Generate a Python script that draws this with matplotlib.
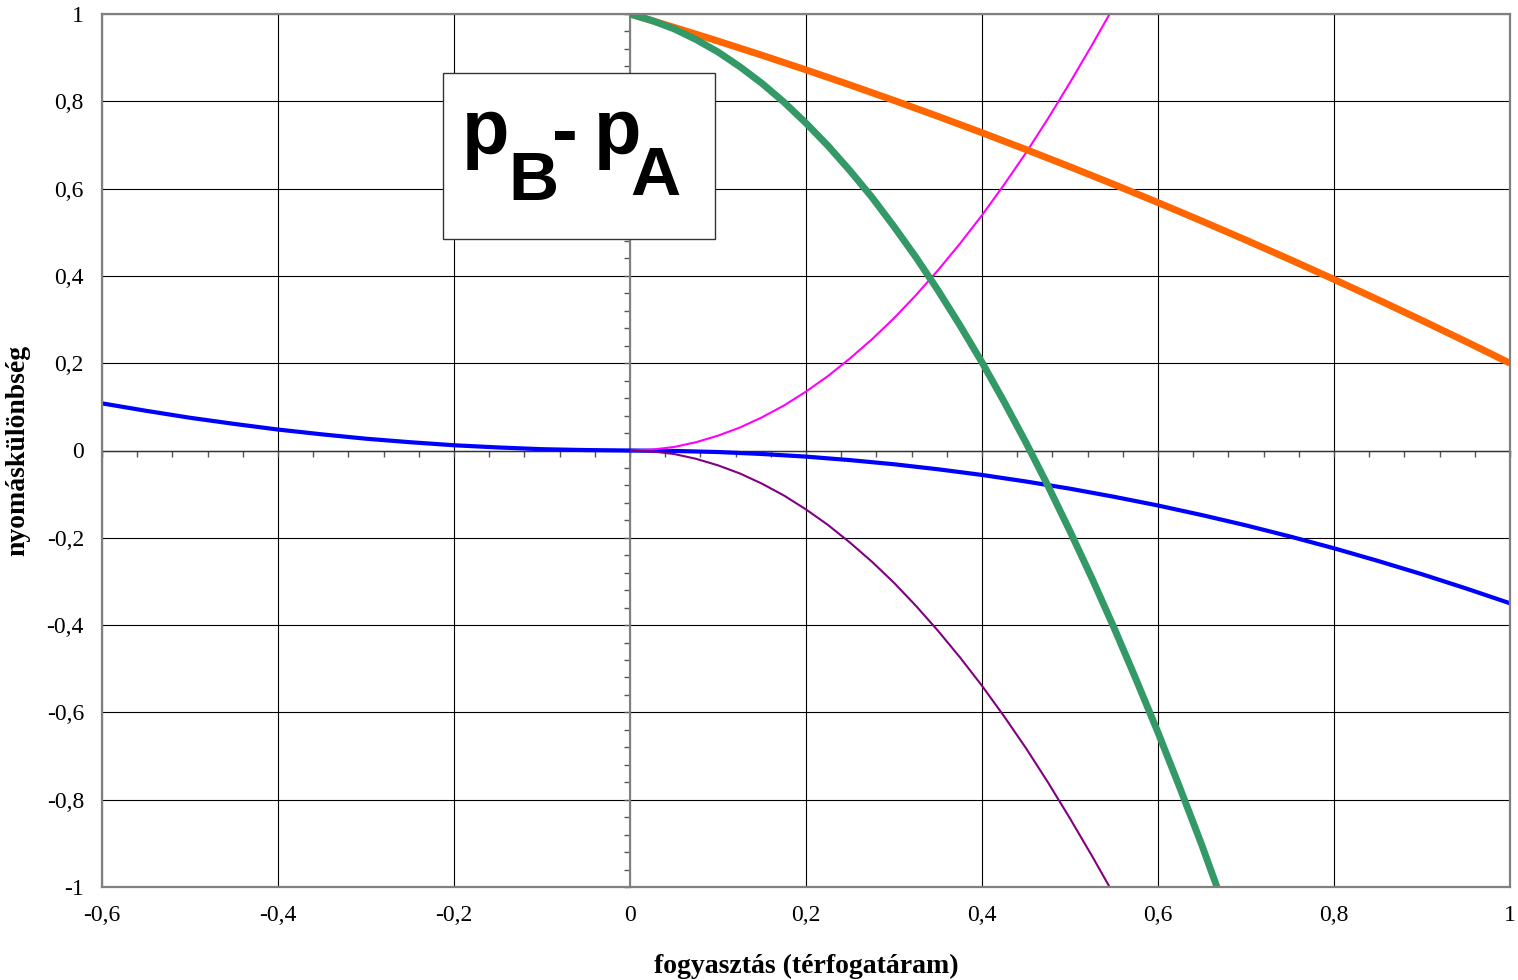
import numpy as np
import matplotlib
matplotlib.use('Agg')
import matplotlib.pyplot as plt
from matplotlib.patches import Rectangle

# görbék (leolvasott értékek)
x_orange = [0.0, 0.05, 0.1, 0.15, 0.2, 0.25, 0.3, 0.35, 0.4, 0.45, 0.5,
            0.55, 0.6, 0.65, 0.7, 0.75, 0.8, 0.85, 0.9, 0.95, 1.0]
y_orange = [1.0, 0.9695, 0.938, 0.9055, 0.872, 0.8375, 0.802, 0.7655, 0.728, 0.6895, 0.65,
            0.6095, 0.568, 0.5255, 0.482, 0.4375, 0.392, 0.3455, 0.298, 0.2495, 0.2]

x_green = [0.0, 0.025, 0.05, 0.075, 0.1, 0.125, 0.15, 0.175, 0.2, 0.225, 0.25, 0.275,
           0.3, 0.325, 0.35, 0.375, 0.4, 0.425, 0.45, 0.475, 0.5, 0.525, 0.55, 0.575,
           0.6, 0.625, 0.65, 0.667]
y_green = [1.0, 0.985, 0.966, 0.9415, 0.913, 0.879, 0.841, 0.798, 0.75, 0.698, 0.641, 0.58,
           0.513, 0.4425, 0.367, 0.2865, 0.202, 0.112, 0.018, -0.081, -0.185, -0.293, -0.406,
           -0.524, -0.646, -0.7735, -0.905, -1.0]

x_mag = [0.0, 0.025, 0.05, 0.075, 0.1, 0.125, 0.15, 0.175, 0.2, 0.225, 0.25, 0.275,
         0.3, 0.325, 0.35, 0.375, 0.4, 0.425, 0.45, 0.475, 0.5, 0.525, 0.545]
y_mag = [0.0, 0.0021, 0.008, 0.019, 0.034, 0.0527, 0.076, 0.1032, 0.135, 0.1706, 0.211, 0.2549,
         0.303, 0.356, 0.413, 0.474, 0.539, 0.6087, 0.682, 0.7604, 0.843, 0.9288, 1.0]

x_purple = [0.0, 0.025, 0.05, 0.075, 0.1, 0.125, 0.15, 0.175, 0.2, 0.225, 0.25, 0.275,
            0.3, 0.325, 0.35, 0.375, 0.4, 0.425, 0.45, 0.475, 0.5, 0.525, 0.545]
y_purple = [0.0, -0.0021, -0.008, -0.019, -0.034, -0.0527, -0.076, -0.1032, -0.135, -0.1706,
            -0.211, -0.2549, -0.303, -0.356, -0.413, -0.474, -0.539, -0.6087, -0.682, -0.7604,
            -0.843, -0.9288, -1.0]

x_blue = [-0.6, -0.55, -0.5, -0.45, -0.4, -0.35, -0.3, -0.25, -0.2, -0.15, -0.1, -0.05, 0.0,
          0.05, 0.1, 0.15, 0.2, 0.25, 0.3, 0.35, 0.4, 0.45, 0.5, 0.55, 0.6, 0.65, 0.7, 0.75,
          0.8, 0.85, 0.9, 0.95, 1.0]
y_blue = [0.108, 0.091, 0.075, 0.061, 0.048, 0.037, 0.027, 0.019, 0.012, 0.007, 0.003, 0.001, 0.0,
          -0.001, -0.0035, -0.008, -0.014, -0.022, -0.0315, -0.043, -0.056, -0.071, -0.0875,
          -0.106, -0.126, -0.148, -0.1715, -0.197, -0.224, -0.253, -0.2835, -0.316, -0.35]

xticks = [-0.6, -0.4, -0.2, 0, 0.2, 0.4, 0.6, 0.8, 1]
xticklabels = ['-0,6', '-0,4', '-0,2', '0', '0,2', '0,4', '0,6', '0,8', '1']
yticks = [-1, -0.8, -0.6, -0.4, -0.2, 0, 0.2, 0.4, 0.6, 0.8, 1]
yticklabels = ['-1', '-0,8', '-0,6', '-0,4', '-0,2', '0', '0,2', '0,4', '0,6', '0,8', '1']

serif = 'Liberation Serif'

fig = plt.figure(figsize=(15.18, 9.8), dpi=100)
pos = [102 / 1518, 1 - 887 / 980, 1408 / 1518, 873 / 980]

# alsó tengely: rács + nulla-tengelyek kis jelekkel
ax2 = fig.add_axes(pos, zorder=0)
ax2.set_xlim(-0.6, 1)
ax2.set_ylim(-1, 1)
ax2.set_xticks(xticks)
ax2.set_yticks(yticks)
ax2.set_xticks(np.arange(-0.6, 1.001, 0.04), minor=True)
ax2.set_yticks(np.arange(-1, 1.001, 0.04), minor=True)
ax2.grid(True, which='major', color='black', linewidth=0.8)
ax2.spines['left'].set_position(('data', 0))
ax2.spines['bottom'].set_position(('data', 0))
ax2.spines['top'].set_visible(False)
ax2.spines['right'].set_visible(False)
ax2.spines['left'].set_color('#808080')
ax2.spines['left'].set_linewidth(1.5)
ax2.spines['bottom'].set_color('#333333')
ax2.spines['bottom'].set_linewidth(1.0)
ax2.tick_params(which='both', labelleft=False, labelbottom=False, direction='out',
                length=4, width=1, color='#555555')

# felső tengely: görbék, keret, feliratok
ax = fig.add_axes(pos, zorder=1)
ax.patch.set_visible(False)
ax.set_xlim(-0.6, 1)
ax.set_ylim(-1, 1)

kw = dict(solid_joinstyle='round', solid_capstyle='butt')
ax.plot(x_blue, y_blue, color='#0000FF', linewidth=3.0, **kw)
ax.plot(x_mag, y_mag, color='#FF00FF', linewidth=1.5, **kw)
ax.plot(x_purple, y_purple, color='#800080', linewidth=1.5, **kw)
ax.plot(x_orange, y_orange, color='#FF6600', linewidth=5.0, **kw)
ax.plot(x_green, y_green, color='#339966', linewidth=5.0, **kw)

ax.set_xticks(xticks)
ax.set_xticklabels(xticklabels)
ax.set_yticks(yticks)
ax.set_yticklabels(yticklabels)
ax.tick_params(length=0, labelsize=17, pad=13)
for lab in ax.get_xticklabels() + ax.get_yticklabels():
    lab.set_fontfamily(serif)
for s in ax.spines.values():
    s.set_color('#808080')
    s.set_linewidth(1.6)

ax.set_xlabel('fogyasztás (térfogatáram)', fontsize=20, fontweight='bold',
              family=serif, labelpad=20)
ax.set_ylabel('nyomáskülönbség', fontsize=20, fontweight='bold', family=serif, labelpad=12)

# p_B - p_A felirat kerettel
ax.add_patch(Rectangle(((443 - 102) / 1408, (887 - 239) / 873), 272 / 1408, 166 / 873,
                       transform=ax.transAxes, facecolor='white', edgecolor='#333333',
                       linewidth=1.0, zorder=5))
sans = 'Liberation Sans'
def ftext(px, py, s, size, va='baseline'):
    fig.text(px / 1518, 1 - py / 980, s, fontsize=size, fontweight='bold',
             family=sans, ha='left', va=va, zorder=10)

ftext(462, 154, 'p', 56)
ftext(508, 200, 'B', 50)
ftext(552, 135, '-', 56, va='center')
ftext(594, 154, 'p', 56)
ftext(630, 195, 'A', 50)

fig.savefig('out.png', dpi=100)
